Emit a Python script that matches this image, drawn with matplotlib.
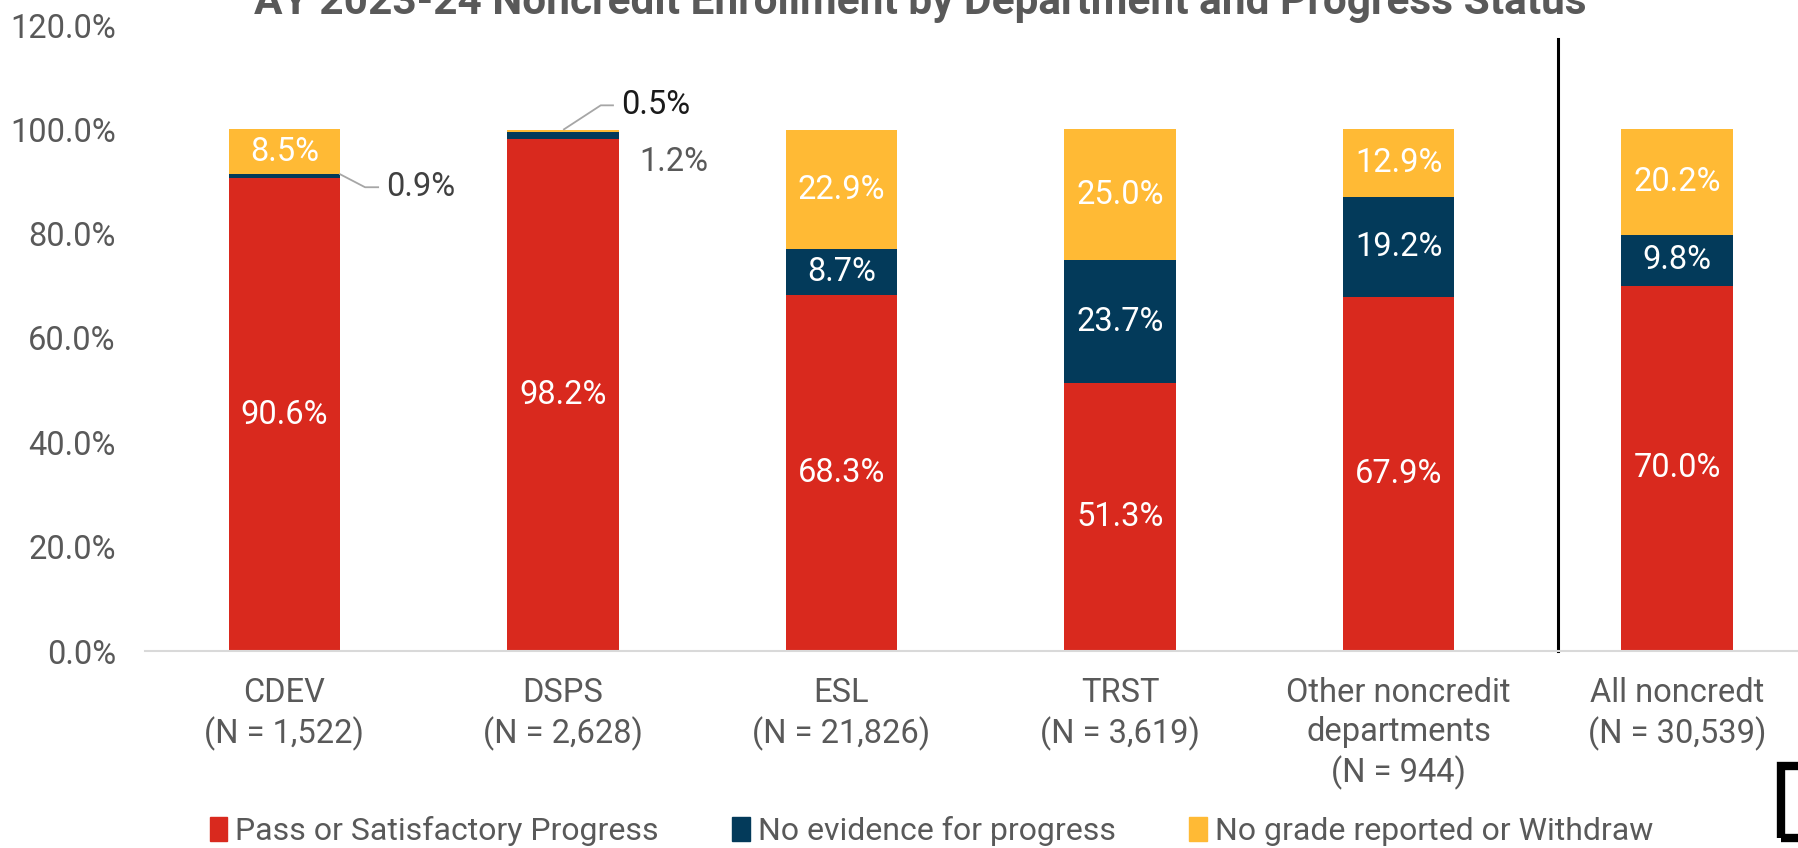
import numpy as np
import matplotlib.pyplot as plt
from matplotlib.patches import Rectangle, Patch

plt.rcParams['font.family'] = ['Roboto', 'DejaVu Sans']

categories = ['CDEV\n(N = 1,522)', 'DSPS\n(N = 2,628)', 'ESL\n(N = 21,826)',
              'TRST\n(N = 3,619)', 'Other noncredit\ndepartments\n(N = 944)',
              'All noncredt\n(N = 30,539)']
passed = [90.6, 98.2, 68.3, 51.3, 67.9, 70.0]
no_evidence = [0.9, 1.2, 8.7, 23.7, 19.2, 9.8]
no_grade = [8.5, 0.5, 22.9, 25.0, 12.9, 20.2]
series_names = ['Pass or Satisfactory Progress', 'No evidence for progress',
                'No grade reported or Withdraw']

red = '#D9291E'
navy = '#033A5A'
yellow = '#FFBA35'
gray_txt = '#595959'
fs = 23.5

fig = plt.figure(figsize=(17.98, 8.48), dpi=100)
ax = fig.add_axes([145 / 1798, 197 / 848, 1653 / 1798, 626 / 848])

x = np.arange(len(categories))
w = 0.40
ax.bar(x, passed, w, color=red, label=series_names[0])
ax.bar(x, no_evidence, w, bottom=passed, color=navy, label=series_names[1])
bot2 = np.array(passed) + np.array(no_evidence)
ax.bar(x, no_grade, w, bottom=bot2, color=yellow, label=series_names[2])

ax.set_xlim(-0.5, 5.434)
ax.set_ylim(0, 120)
ax.set_yticks(np.arange(0, 121, 20))
ax.set_yticklabels([f'{v:.1f}%' for v in np.arange(0, 121, 20)])
ax.set_xticks(x)
ax.set_xticklabels(categories, linespacing=1.28)
ax.tick_params(axis='both', length=0, labelsize=fs, labelcolor=gray_txt)
ax.tick_params(axis='x', pad=19)
ax.tick_params(axis='y', pad=21)
for s in ['top', 'right', 'left']:
    ax.spines[s].set_visible(False)
ax.spines['bottom'].set_color('#D9D9D9')
ax.spines['bottom'].set_linewidth(1.5)

# labels inside segments
for i in range(len(x)):
    ax.text(x[i], passed[i] / 2, f'{passed[i]:.1f}%', ha='center', va='center',
            color='white', fontsize=fs)
    if i > 1:
        ax.text(x[i], passed[i] + no_evidence[i] / 2, f'{no_evidence[i]:.1f}%',
                ha='center', va='center', color='white', fontsize=fs)
    if i != 1:
        ax.text(x[i], bot2[i] + no_grade[i] / 2, f'{no_grade[i]:.1f}%', ha='center',
                va='center', color='white', fontsize=fs)

# callouts for thin segments
ax.plot([x[0] + 0.2, x[0] + 0.29, x[0] + 0.337], [91.4, 88.9, 88.9],
        color='#A6A6A6', lw=1.3)
ax.text(x[0] + 0.366, 88.9, f'{no_evidence[0]:.1f}%', ha='left', va='center',
        color='#404040', fontsize=fs)
ax.plot([x[1] + 0.004, x[1] + 0.136, x[1] + 0.18], [100.0, 104.6, 104.6],
        color='#A6A6A6', lw=1.3)
ax.text(x[1] + 0.21, 104.6, f'{no_grade[1]:.1f}%', ha='left', va='center',
        color='#1A1A1A', fontsize=fs)
ax.text(x[1] + 0.276, 93.7, f'{no_evidence[1]:.1f}%', ha='left', va='center',
        color=gray_txt, fontsize=fs)

# divider before the total column
ax.plot([4.573, 4.573], [0, 117.3], color='black', lw=2.2, clip_on=False)

fig.text(0.512, 1 - 14 / 848, 'AY 2023-24 Noncredit Enrollment by Department and Progress Status',
         ha='center', va='baseline', fontsize=30.5, fontweight='bold', color=gray_txt)

handles = [Patch(color=red), Patch(color=navy), Patch(color=yellow)]
fig.legend(handles, series_names, loc='center', bbox_to_anchor=(0.518, 1 - 831 / 848),
           ncol=3, frameon=False, fontsize=23, labelcolor=gray_txt,
           handlelength=0.55, handleheight=0.8, handletextpad=0.25, columnspacing=2.3)

fig.patches.append(Rectangle((1781 / 1798, 10 / 848), 40 / 1798, 72 / 848,
                             transform=fig.transFigure, fill=False,
                             edgecolor='black', lw=6, clip_on=False))

fig.savefig('out.png', dpi=100)
